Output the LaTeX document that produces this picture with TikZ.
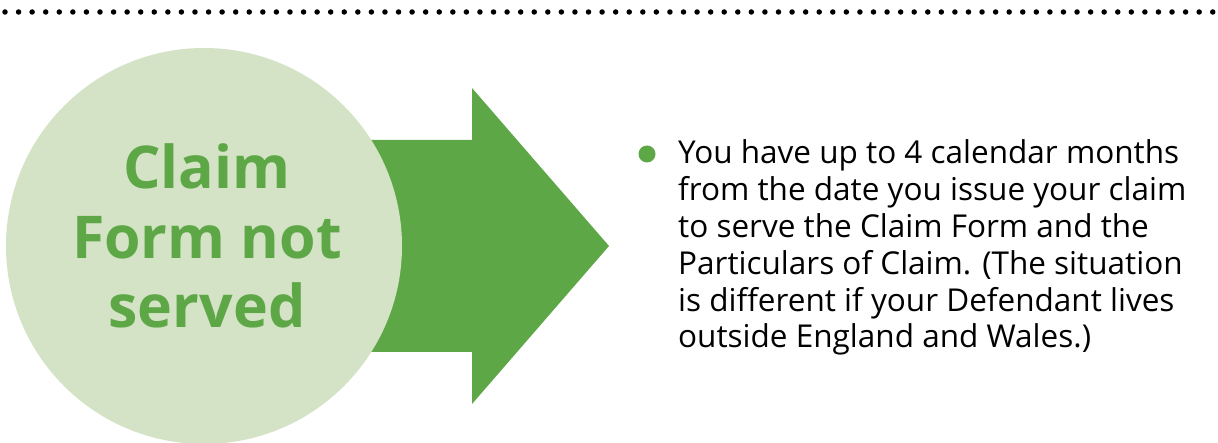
\documentclass[tikz,border=0pt]{standalone}
\usepackage{fontspec}
\setmainfont{Open Sans}
\usepackage{tikz}
\definecolor{leaf}{HTML}{5DA746}
\definecolor{pale}{HTML}{D4E2C6}

\begin{document}
\begin{tikzpicture}[x=1pt,y=-1pt,
    bubble/.style={circle,fill=pale,minimum size=396pt,inner sep=0pt},
    heading/.style={align=center,text=leaf,font=\fontsize{59}{69.5}\selectfont\bfseries},
    bodytext/.style={anchor=base west,inner sep=0pt,font=\fontsize{31.5}{37}\selectfont},
    bullet/.style={circle,fill=leaf,minimum size=17pt,inner sep=0pt},
    dotline/.style={line width=5.5pt,line cap=round,dash pattern=on 0pt off 13.57pt}]
    \useasboundingbox (0,0) rectangle (1218,443);
    \draw[dotline] (5,12) -- (1213,12);
    \fill[leaf] (360,140) -- (472,140) -- (472,88) -- (609,246)
        -- (472,404) -- (472,352) -- (360,352) -- cycle;
    \node[bubble] (circ) at (204,246) {};
    \node[heading] (title) at (207,236) {Claim\\Form not\\served};
    \node[bullet] (dot) at (647,154) {};
    \foreach \txt [count=\i] in {You have up to 4 calendar months,
        from the date you issue your claim,
        to serve the Claim Form and the,
        Particulars of Claim. (The situation,
        is different if your Defendant lives,
        outside England and Wales.)}
        \node[bodytext] (line\i) at (678,{164+36.8*(\i-1)}) {\txt};
\end{tikzpicture}
\end{document}
